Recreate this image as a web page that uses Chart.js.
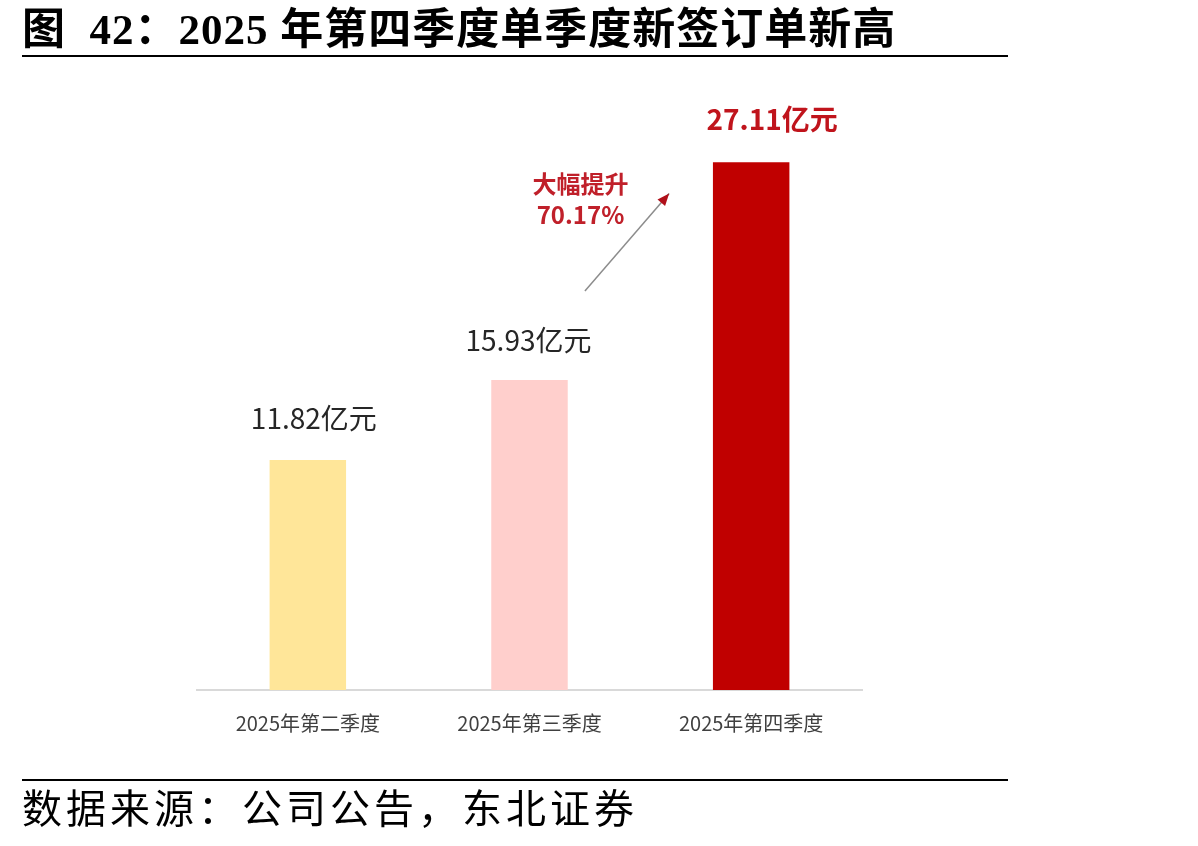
<!DOCTYPE html>
<html><head><meta charset="utf-8">
<script src="https://cdn.jsdelivr.net/npm/chart.js@4"></script>
<style>
html,body{margin:0;padding:0;background:#fff;width:1198px;height:846px;overflow:hidden;}
#wrap{position:relative;width:1198px;height:846px;}
#c{position:absolute;left:0;top:0;}
.title{position:absolute;left:22px;top:4px;font-family:"Liberation Serif","Noto Sans CJK SC",serif;font-weight:bold;font-size:43px;line-height:52px;color:#000;white-space:nowrap;letter-spacing:1px;}
.line{position:absolute;left:22px;width:986px;height:2px;background:#000;}
.src{position:absolute;left:22px;top:786px;font-family:"Liberation Serif","Noto Sans CJK SC",serif;font-size:40px;line-height:48px;color:#000;white-space:nowrap;letter-spacing:4px;}
</style></head>
<body><div id="wrap">
<canvas id="c" width="1198" height="846"></canvas>
<div class="title">图&nbsp; 42：2025 年第四季度单季度新签订单新高</div>
<div class="line" style="top:55px"></div>
<div class="line" style="top:779px"></div>
<div class="src">数据来源：公司公告，东北证券</div>
</div>
<script>
const categories = ["2025年第二季度","2025年第三季度","2025年第四季度"];
const values = [11.82, 15.93, 27.11];
const valueLabels = ["11.82亿元","15.93亿元","27.11亿元"];
const growthText = ["大幅提升","70.17%"];
const barColors = ["#FFE699","#FFCFCC","#C00000"];
const labelColors = ["#262626","#262626","#C0141C"];
const labelBold = [false,false,true];

const labelPlugin = {
  id:'labels',
  afterDatasetsDraw(chart, args, opts){
    const ctx = chart.ctx;
    const meta = chart.getDatasetMeta(0);
    const x = chart.scales.x, y = chart.scales.y;
    ctx.save();
    ctx.textAlign='center'; ctx.textBaseline='middle';
    meta.data.forEach((bar,i)=>{
      ctx.fillStyle = labelColors[i];
      ctx.font = (labelBold[i]?'bold ':'') + '28px "Noto Sans CJK SC", sans-serif';
      ctx.fillText(valueLabels[i], bar.x + opts.dx[i], bar.y - opts.dy[i]);
    });
    // arrow between bar 2 and bar 3
    const x0 = x.getPixelForValue(1.25), y0 = y.getPixelForValue(20.5);
    const x1 = x.getPixelForValue(1.63), y1 = y.getPixelForValue(25.5);
    ctx.strokeStyle = '#8c8c8c'; ctx.lineWidth = 1.5;
    ctx.beginPath(); ctx.moveTo(x0,y0); ctx.lineTo(x1,y1); ctx.stroke();
    const ang = Math.atan2(y1-y0, x1-x0);
    ctx.fillStyle = '#B0101A';
    ctx.beginPath();
    ctx.moveTo(x1,y1);
    ctx.lineTo(x1-12*Math.cos(ang)+5*Math.sin(ang), y1-12*Math.sin(ang)-5*Math.cos(ang));
    ctx.lineTo(x1-12*Math.cos(ang)-5*Math.sin(ang), y1-12*Math.sin(ang)+5*Math.cos(ang));
    ctx.closePath(); ctx.fill();
    // text
    const tx = x.getPixelForValue(1.23);
    ctx.fillStyle = '#C0202A';
    ctx.font = 'bold 24px "Noto Sans CJK SC", sans-serif';
    ctx.fillText(growthText[0], tx, y.getPixelForValue(26.0));
    ctx.fillText(growthText[1], tx, y.getPixelForValue(24.4));
    ctx.restore();
  }
};

new Chart(document.getElementById('c'), {
  type:'bar',
  data:{labels:categories, datasets:[{data:values, backgroundColor:barColors, borderWidth:0, categoryPercentage:1, barPercentage:0.345}]},
  options:{
    responsive:false, animation:false,
    layout:{padding:{left:197,right:336,top:106,bottom:0}},
    plugins:{legend:{display:false},tooltip:{enabled:false},title:{display:false},
      labels:{dx:[6,-1,21], dy:[42,40,43]}},
    scales:{
      y:{display:false,min:0,max:30,
         afterFit(s){ s.width = 0; }},
      x:{
        grid:{display:false},
        border:{display:true,color:'#d9d9d9',width:2},
        ticks:{color:'#404040',font:{family:'"Noto Sans CJK SC", sans-serif',size:20},padding:13,maxRotation:0},
        afterFit(s){ s.height = 156; }
      }
    }
  },
  plugins:[labelPlugin]
});
</script>
</body></html>
